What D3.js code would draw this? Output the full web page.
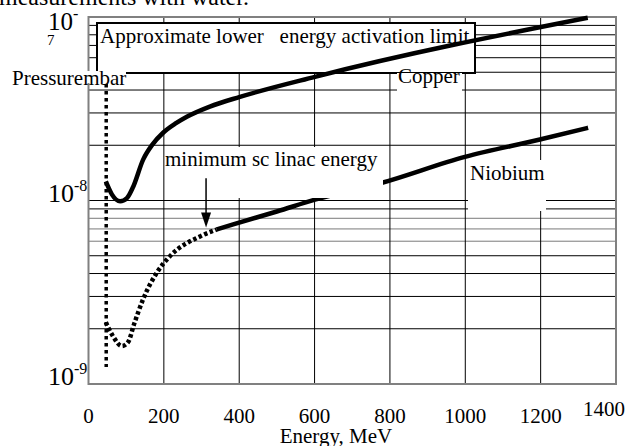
<!DOCTYPE html>
<html>
<head>
<meta charset="utf-8">
<script src="https://cdn.jsdelivr.net/npm/d3@7"></script>
<style>
  body { margin: 0; background: #fff; }
  svg { display: block; font-family: "Liberation Serif", "Times New Roman", serif; }
  text { white-space: pre; }
</style>
</head>
<body>
<svg width="627" height="446"></svg>
<script>
// energy in MeV, pressure in mbar
let copperE = [46, 62, 84, 102, 118, 145, 169, 198, 230, 261, 322, 402, 601, 1325];
let copperP = [1.27e-8, 1.08e-8, 0.99e-8, 1.03e-8, 1.18e-8, 1.67e-8, 2.01e-8, 2.34e-8, 2.62e-8, 2.86e-8, 3.25e-8, 3.67e-8, 4.72e-8, 9.9e-8];

let niobiumE = [46, 65, 89, 105, 121, 145, 182, 216, 296, 340, 384, 500, 601, 779, 999, 1198, 1326];
let niobiumP = [2.17e-9, 1.82e-9, 1.61e-9, 1.69e-9, 2.12e-9, 2.9e-9, 4.06e-9, 4.97e-9, 6.37e-9, 6.95e-9, 7.41e-9, 8.71e-9, 1.01e-8, 1.25e-8, 1.73e-8, 2.15e-8, 2.49e-8];

let xTicks = [0, 200, 400, 600, 800, 1000, 1200, 1400];
let gridP = [2e-9, 3e-9, 4e-9, 5e-9, 6e-9, 7e-9, 8e-9, 9e-9, 1e-8, 2e-8, 3e-8, 4e-8, 5e-8, 6e-8, 7e-8, 8e-8, 9e-8];
let decadeExps = [-9, -8];

let limitE = 47;          // dotted vertical line
let linacE = 312;         // minimum sc linac energy arrow
let arrowP = [1.32e-8, 7.13e-9];

let svg = d3.select("svg");
let padLeft = 88.5, padRight = 616, padTop = 17, padBottom = 384;

let xScale = d3.scaleLinear().domain([0, 1400]).range([padLeft, padRight]);
let yScale = d3.scaleLog().domain([1e-9, 1e-7]).range([padBottom, padTop]);

// title (cut off at the top)
svg.append("text").attr("x", -1).attr("y", 5).attr("font-size", 24).text("measurements with water.");

// grid
svg.selectAll("line.hgrid").data(gridP).enter().append("line")
  .attr("x1", padLeft).attr("x2", padRight)
  .attr("y1", (d) => yScale(d)).attr("y2", (d) => yScale(d))
  .attr("stroke", (d) => (d >= 6e-9 && d <= 8e-9 ? "#7a7a7a" : "#000"))
  .attr("stroke-width", 1);

svg.selectAll("line.vgrid").data(xTicks.slice(1, -1)).enter().append("line")
  .attr("x1", (d) => xScale(d)).attr("x2", (d) => xScale(d))
  .attr("y1", padTop).attr("y2", padBottom)
  .attr("stroke", "#000").attr("stroke-width", 1);

// frame
svg.append("rect").attr("x", padLeft).attr("y", padTop)
  .attr("width", padRight - padLeft).attr("height", padBottom - padTop)
  .attr("fill", "none").attr("stroke", "#808080").attr("stroke-width", 2);

// activation limit box
svg.append("rect").attr("x", 97).attr("y", 23).attr("width", 378).attr("height", 50)
  .attr("fill", "#fff").attr("stroke", "#000").attr("stroke-width", 2);
svg.append("text").attr("x", 100).attr("y", 43).attr("font-size", 21)
  .text("Approximate lower   energy activation limit");

// curves
let line = d3.line().curve(d3.curveMonotoneX)
  .x((d) => xScale(d[0])).y((d) => yScale(d[1]));

let copper = copperE.map((e, i) => [e, copperP[i]]);
let niobium = niobiumE.map((e, i) => [e, niobiumP[i]]);
let split = niobiumE.indexOf(340);

svg.append("path").attr("d", line(copper))
  .attr("fill", "none").attr("stroke", "#000").attr("stroke-width", 4.5);

svg.append("path").attr("d", line(niobium.slice(0, split + 1)))
  .attr("fill", "none").attr("stroke", "#000").attr("stroke-width", 4.5)
  .attr("stroke-dasharray", "3.5,2.5");
svg.append("path").attr("d", line(niobium.slice(split)))
  .attr("fill", "none").attr("stroke", "#000").attr("stroke-width", 4.5);

// label backgrounds
svg.append("rect").attr("x", 397).attr("y", 73).attr("width", 65).attr("height", 39).attr("fill", "#fff");
svg.append("rect").attr("x", 468).attr("y", 160).attr("width", 78).attr("height", 51).attr("fill", "#fff");
svg.append("rect").attr("x", 166).attr("y", 147).attr("width", 217).attr("height", 51).attr("fill", "#fff");

svg.append("text").attr("x", 398).attr("y", 83).attr("font-size", 21).text("Copper");
svg.append("text").attr("x", 470).attr("y", 180).attr("font-size", 21).text("Niobium");
svg.append("text").attr("x", 165).attr("y", 166).attr("font-size", 21).text("minimum sc linac energy");

// arrow
let ax = xScale(linacE);
let y0 = yScale(arrowP[0]), y1 = yScale(arrowP[1]);
svg.append("line").attr("x1", ax).attr("x2", ax).attr("y1", y0).attr("y2", y1 - 12)
  .attr("stroke", "#000").attr("stroke-width", 1.5);
svg.append("path")
  .attr("d", `M${ax - 5},${y1 - 15}L${ax + 5},${y1 - 15}L${ax},${y1}Z`)
  .attr("fill", "#000");

// y label
svg.append("rect").attr("x", 12).attr("y", 71).attr("width", 114).attr("height", 12).attr("fill", "#fff");
svg.append("text").attr("x", 12).attr("y", 85).attr("font-size", 21).text("Pressurembar");

// dotted limit line
svg.append("line").attr("x1", xScale(limitE)).attr("x2", xScale(limitE))
  .attr("y1", 84).attr("y2", 367)
  .attr("stroke", "#000").attr("stroke-width", 3.5).attr("stroke-dasharray", "3.5,3.5");

// y tick labels
decadeExps.forEach((p) => {
  let t = svg.append("text").attr("x", 48).attr("y", yScale(Math.pow(10, p)) + 1).attr("font-size", 26);
  t.append("tspan").text("10");
  t.append("tspan").attr("font-size", 16).attr("dy", -11).text("-" + Math.abs(p));
});
let topLabel = svg.append("text").attr("x", 48).attr("y", yScale(1e-7) + 13).attr("font-size", 25);
topLabel.append("tspan").text("10");
topLabel.append("tspan").attr("font-size", 16).attr("dy", -11).text("-");
svg.append("text").attr("x", 47).attr("y", 45).attr("font-size", 15).text("7");

// x tick labels
svg.selectAll("text.xt").data(xTicks).enter().append("text")
  .attr("x", (d) => xScale(d) - (d === 1400 ? 12 : 0))
  .attr("y", (d) => padBottom + (d === 1400 ? 32 : 39))
  .attr("text-anchor", "middle").attr("font-size", 21)
  .text((d) => d);

svg.append("text").attr("x", 336).attr("y", 443).attr("text-anchor", "middle")
  .attr("font-size", 21).text("Energy, MeV");
</script>
</body>
</html>
